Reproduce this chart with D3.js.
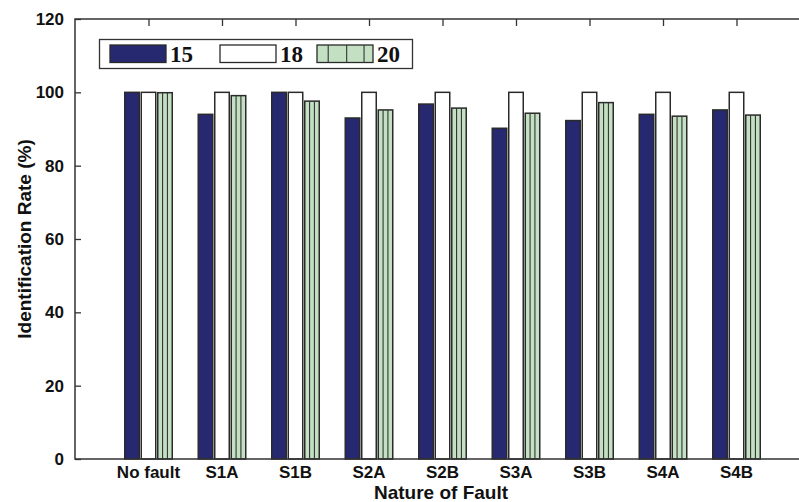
<!DOCTYPE html>
<html>
<head>
<meta charset="utf-8">
<script src="https://cdn.jsdelivr.net/npm/d3@7/dist/d3.min.js"></script>
<style>
  html, body { margin: 0; padding: 0; background: #fff; overflow: hidden; }
  svg { display: block; }
</style>
</head>
<body>
<div id="chart"></div>
<script>
// values
const categories = ['No fault', 'S1A', 'S1B', 'S2A', 'S2B', 'S3A', 'S3B', 'S4A', 'S4B'];
const seriesNames = ['15', '18', '20'];
const rate15 = [100, 94, 100, 93, 96.8, 90.2, 92.3, 94, 95.2];
const rate18 = [100, 100, 100, 100, 100, 100, 100, 100, 100];
const rate20 = [99.9, 99.1, 97.6, 95.2, 95.7, 94.3, 97.2, 93.5, 93.8];
const yTicks = [0, 20, 40, 60, 80, 100, 120];

const COLORS = { '15': '#262870', '18': '#ffffff', '20': '#c3e0c3' };
const EDGE = '#2a2a2a';

const width = 799, height = 502;
const M = { left: 75, top: 19, bottom: 459 };

const svg = d3.select('#chart').append('svg')
  .attr('width', width).attr('height', height);

// axes run past the right edge of the picture (the figure is cropped there)
const x0 = d3.scalePoint().domain(categories).range([148.5, 736.5]);
const plotRight = 810;
const x1 = d3.scaleBand().domain(seriesNames).range([-23.75, 23.75]).paddingInner(0.121);
const y = d3.scaleLinear().domain([0, 120]).range([M.bottom, M.top]);

const rows = categories.map((c, i) => ({
  cat: c,
  vals: [
    { s: '15', v: rate15[i] },
    { s: '18', v: rate18[i] },
    { s: '20', v: rate20[i] }
  ]
}));

// bottom category ticks sit under the bars
svg.append('g')
  .attr('transform', `translate(0,${M.bottom})`)
  .call(d3.axisBottom(x0).tickSize(-6).tickFormat(''))
  .call(g => g.select('.domain').remove())
  .selectAll('line').attr('stroke', '#333').attr('stroke-width', 1.3);

const groups = svg.append('g').selectAll('g')
  .data(rows).join('g')
  .attr('transform', d => `translate(${x0(d.cat)},0)`);

groups.selectAll('rect')
  .data(d => d.vals).join('rect')
  .attr('x', d => x1(d.s))
  .attr('y', d => y(d.v))
  .attr('width', x1.bandwidth())
  .attr('height', d => y(0) - y(d.v))
  .attr('fill', d => COLORS[d.s])
  .attr('stroke', EDGE)
  .attr('stroke-width', 1.5);

// vertical hatch on the "20" bars
groups.each(function (d) {
  const v = d.vals[2];
  const g = d3.select(this);
  [1 / 3, 2 / 3].forEach(f => {
    const xx = x1(v.s) + f * x1.bandwidth();
    g.append('line')
      .attr('x1', xx).attr('x2', xx)
      .attr('y1', y(v.v)).attr('y2', y(0))
      .attr('stroke', '#333').attr('stroke-width', 1.1);
  });
});

// y axis with inward ticks
const yAxisG = svg.append('g')
  .attr('transform', `translate(${M.left},0)`)
  .call(d3.axisLeft(y).tickValues(yTicks).tickSize(-6).tickPadding(11).tickSizeOuter(0));
yAxisG.select('.domain').remove();
yAxisG.selectAll('line').attr('stroke', '#333').attr('stroke-width', 1.3);
yAxisG.selectAll('text')
  .attr('fill', '#111')
  .style('font-family', 'Liberation Sans, Arial, sans-serif')
  .style('font-weight', 'bold')
  .style('font-size', '17px');

// top category ticks (mirrored)
svg.append('g')
  .attr('transform', `translate(0,${M.top})`)
  .call(d3.axisTop(x0).tickSize(-7).tickFormat(''))
  .call(g => g.select('.domain').remove())
  .selectAll('line').attr('stroke', '#333').attr('stroke-width', 1.3);

// frame lines
svg.append('path')
  .attr('d', `M${plotRight},${M.top}H${M.left}V${M.bottom}H${plotRight}`)
  .attr('fill', 'none').attr('stroke', '#333').attr('stroke-width', 1.5);

// category labels
svg.append('g').selectAll('text')
  .data(categories).join('text')
  .attr('x', d => x0(d))
  .attr('y', 478)
  .attr('text-anchor', 'middle')
  .attr('fill', '#111')
  .style('font-family', 'Liberation Sans, Arial, sans-serif')
  .style('font-weight', 'bold')
  .style('font-size', '17px')
  .text(d => d);

// axis titles
svg.append('text')
  .attr('x', 441).attr('y', 499)
  .attr('text-anchor', 'middle')
  .attr('fill', '#111')
  .style('font-family', 'Liberation Sans, Arial, sans-serif')
  .style('font-weight', 'bold')
  .style('font-size', '19px')
  .text('Nature of Fault');

svg.append('text')
  .attr('transform', `translate(31,${(M.top + M.bottom) / 2}) rotate(-90)`)
  .attr('text-anchor', 'middle')
  .attr('fill', '#111')
  .style('font-family', 'Liberation Sans, Arial, sans-serif')
  .style('font-weight', 'bold')
  .style('font-size', '19px')
  .text('Identification Rate (%)');

// legend
const legend = svg.append('g');
legend.append('rect')
  .attr('x', 99.5).attr('y', 39.5).attr('width', 313).attr('height', 29)
  .attr('fill', '#fff').attr('stroke', '#333').attr('stroke-width', 1.3);

const legendX = [110, 220, 317];
seriesNames.forEach((s, i) => {
  const lx = legendX[i];
  legend.append('rect')
    .attr('x', lx).attr('y', 45).attr('width', 56).attr('height', 17.5)
    .attr('fill', COLORS[s]).attr('stroke', EDGE).attr('stroke-width', 1.3);
  if (s === '20') {
    [0.2, 0.53, 0.84].forEach(f => {
      legend.append('line')
        .attr('x1', lx + f * 56).attr('x2', lx + f * 56)
        .attr('y1', 45).attr('y2', 62.5)
        .attr('stroke', '#333').attr('stroke-width', 1.1);
    });
  }
  legend.append('text')
    .attr('x', lx + 60).attr('y', 62)
    .attr('fill', '#111')
    .style('font-family', 'Liberation Serif, Times New Roman, serif')
    .style('font-weight', 'bold')
    .style('font-size', '23px')
    .text(s);
});
</script>
</body>
</html>
